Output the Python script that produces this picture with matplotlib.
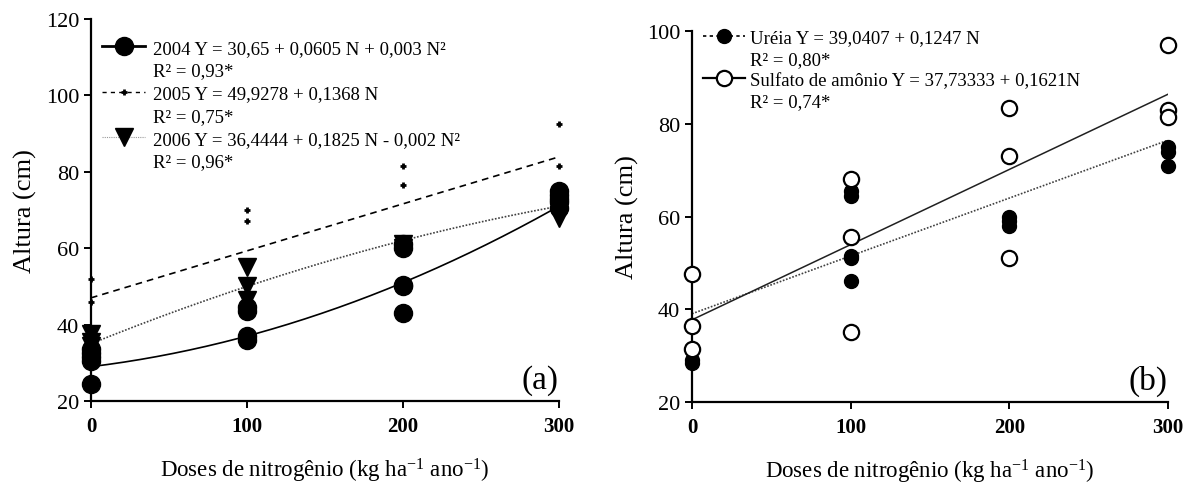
"""Plant height vs nitrogen dose: (a) by year, (b) by nitrogen source."""

import numpy as np
import matplotlib
matplotlib.use("Agg")
import matplotlib.pyplot as plt
from matplotlib.lines import Line2D

plt.rcParams["font.family"] = ["Liberation Serif", "DejaVu Serif"]
plt.rcParams["mathtext.fontset"] = "custom"
plt.rcParams["mathtext.rm"] = "Liberation Serif"
plt.rcParams["mathtext.it"] = "Liberation Serif:italic"

# ---------------------------------------------------------------------------
# Data
# ---------------------------------------------------------------------------
# Panel (a): heights per year
DOSE_2004 = [0, 0, 0, 0, 0, 100, 100, 100, 100, 200, 200, 200, 200, 200,
             300, 300, 300, 300, 300]
HEIGHT_2004 = [24.5, 30.5, 31.5, 32.5, 33.5, 36, 37, 43.5, 44.5,
               43, 50, 50.5, 60, 61, 70.5, 72, 73, 74, 75]
DOSE_2005 = [0, 0, 100, 100, 200, 200, 300, 300]
HEIGHT_2005 = [52, 46, 70, 67, 81.5, 76.5, 92.5, 81.5]
DOSE_2006 = [0, 0, 0, 100, 100, 100, 200, 200, 300, 300, 300]
HEIGHT_2006 = [37.5, 35.5, 34.5, 55, 50, 46.5, 60, 61, 68, 70, 71]

# fitted curves as drawn (intercept, linear, quadratic)
FIT_2004 = [29.0, 0.05, 0.0003]
FIT_2005 = [47.0, 0.123, 0.0]
FIT_2006 = [35.0, 0.165, -0.00015]

LABELS_A = [
    ("2004 Y = 30,65 + 0,0605 N + 0,003 N²", "R² = 0,93*"),
    ("2005 Y = 49,9278 + 0,1368 N", "R² = 0,75*"),
    ("2006 Y = 36,4444 + 0,1825 N - 0,002 N²", "R² = 0,96*"),
]

# Panel (b): heights per nitrogen source
DOSE_UREA = [0, 0, 100, 100, 100, 100, 100, 200, 200, 200, 300, 300, 300]
HEIGHT_UREA = [28.5, 29, 64.5, 65.5, 51, 51.5, 46, 60, 59, 58, 75, 74, 71]
DOSE_SULFATE = [0, 0, 0, 100, 100, 100, 200, 200, 200, 300, 300, 300]
HEIGHT_SULFATE = [47.5, 36.5, 31.5, 68, 55.5, 35, 83.5, 73, 51, 97, 83, 81.5]

FIT_UREA = [39.0407, 0.1247, 0.0]
FIT_SULFATE = [37.73333, 0.1621, 0.0]

LABELS_B = [
    ("Uréia Y = 39,0407 + 0,1247 N", "R² = 0,80*"),
    ("Sulfato de amônio Y = 37,73333 + 0,1621N", "R² = 0,74*"),
]

X_TICKS = [0, 100, 200, 300]
X_LABEL = r"Doses de nitrogênio (kg ha$^{\mathregular{-1}}$ ano$^{\mathregular{-1}}$)"
Y_LABEL = "Altura (cm)"

BLACK = "#000000"
GREY = "#404040"


def curve(coefs, n):
    return coefs[0] + coefs[1] * n + coefs[2] * n ** 2


def style_axis(ax, ylim, yticks, tag):
    ax.set_xlim(0, 300)
    ax.set_ylim(*ylim)
    ax.set_xticks(X_TICKS)
    ax.set_yticks(yticks)
    for side in ("top", "right"):
        ax.spines[side].set_visible(False)
    for side in ("left", "bottom"):
        ax.spines[side].set_linewidth(1.6)
    ax.tick_params(direction="out", length=5, width=1.4, labelsize=16)
    ax.tick_params(axis="x", labelsize=15, pad=6)
    for label in ax.get_xticklabels():
        label.set_fontweight("bold")
    ax.set_xlabel(X_LABEL, fontsize=16.5, labelpad=14)
    ax.set_ylabel(Y_LABEL, fontsize=19, labelpad=6)
    ax.text(1.0, 0.015, tag, transform=ax.transAxes, ha="right",
            va="bottom", fontsize=24)


def split_legend(ax, handles, labels, **kwargs):
    """Legend where every entry's R² line sits under it with no handle."""
    blank = Line2D([], [], linestyle="none", marker="none")
    all_handles, all_labels = [], []
    for handle, (equation, r2) in zip(handles, labels):
        all_handles += [handle, blank]
        all_labels += [equation, r2]
    return ax.legend(all_handles, all_labels, frameon=False, **kwargs)


fig = plt.figure(figsize=(11.86, 4.85), dpi=100)
ax_a = fig.add_axes([0.0767, 0.171, 0.3946, 0.788])
ax_b = fig.add_axes([0.5835, 0.169, 0.4013, 0.765])

n = np.linspace(0, 300, 200)

# ---------------------------- panel (a) ------------------------------------
ax_a.plot(n, curve(FIT_2004, n), color=BLACK, lw=1.2, zorder=2)
ax_a.plot(n, curve(FIT_2005, n), color=BLACK, lw=1.2, ls=(0, (4, 3)), zorder=2)
ax_a.plot(n, curve(FIT_2006, n), color=GREY, lw=1.2, ls=(0, (1, 1)), zorder=2)
ax_a.plot(DOSE_2006, HEIGHT_2006, ls="none", marker="v", ms=13, color=BLACK,
          clip_on=False, zorder=3)
ax_a.plot(DOSE_2004, HEIGHT_2004, ls="none", marker="o", ms=13, color=BLACK,
          clip_on=False, zorder=4)
ax_a.plot(DOSE_2005, HEIGHT_2005, ls="none", marker="+", ms=5, mew=2,
          color=BLACK, clip_on=False, zorder=5)
style_axis(ax_a, (20, 120), [20, 40, 60, 80, 100, 120], "(a)")

handles_a = [
    Line2D([], [], color=BLACK, lw=2, marker="o", ms=13),
    Line2D([], [], color=BLACK, lw=1, ls=(0, (3, 3)), marker="+", ms=5, mew=2),
    Line2D([], [], color="#999999", lw=0.8, ls=(0, (1, 1)), marker="v", ms=13,
           mfc=BLACK, mec=BLACK),
]
split_legend(ax_a, handles_a, LABELS_A, loc="upper left",
             bbox_to_anchor=(0.0, 0.975), fontsize=13.5, handlelength=2.3,
             handletextpad=0.4, labelspacing=0.3, borderaxespad=0.2)

# ---------------------------- panel (b) ------------------------------------
ax_b.plot(n, curve(FIT_UREA, n), color=GREY, lw=1.2, ls=(0, (1, 1)), zorder=2)
ax_b.plot(n, curve(FIT_SULFATE, n), color="#202020", lw=1.1, zorder=2)
ax_b.plot(DOSE_UREA, HEIGHT_UREA, ls="none", marker="o", ms=10, color=BLACK,
          clip_on=False, zorder=3)
ax_b.plot(DOSE_SULFATE, HEIGHT_SULFATE, ls="none", marker="o", ms=11,
          mfc="white", mec=BLACK, mew=1.6, clip_on=False, zorder=4)
style_axis(ax_b, (20, 100), [20, 40, 60, 80, 100], "(b)")

handles_b = [
    Line2D([], [], color=BLACK, lw=1.2, ls=(0, (2, 2)), marker="o", ms=10),
    Line2D([], [], color=BLACK, lw=1.6, marker="o", ms=11, mfc="white",
           mew=1.6),
]
split_legend(ax_b, handles_b, LABELS_B, loc="upper left",
             bbox_to_anchor=(0.0, 1.035), fontsize=13.5, handlelength=2.2,
             handletextpad=0.3, labelspacing=0.22, borderaxespad=0.2)

fig.savefig("out.png", dpi=100, facecolor="white")
